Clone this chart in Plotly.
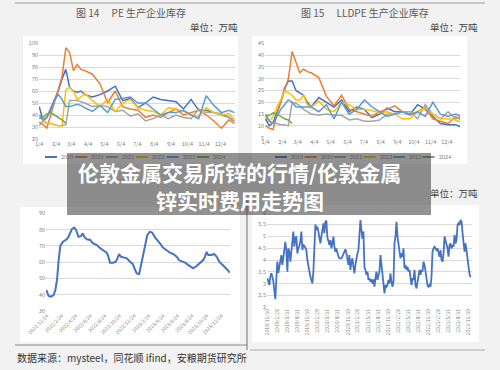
import plotly.graph_objects as go
import pandas as pd

W, H = 500, 370

# ---------------- data: top seasonal charts ----------------
SEASON_DATES = ["2001-01-04", "2001-01-11", "2001-01-18", "2001-01-25", "2001-02-01", "2001-02-08",
                "2001-02-15", "2001-02-22", "2001-03-01", "2001-03-08", "2001-03-15", "2001-03-22",
                "2001-03-29", "2001-04-12", "2001-04-26", "2001-05-10", "2001-05-24", "2001-06-07",
                "2001-06-21", "2001-07-05", "2001-07-19", "2001-08-02", "2001-08-16", "2001-08-30",
                "2001-09-13", "2001-09-27", "2001-10-11", "2001-10-25", "2001-11-08", "2001-11-22",
                "2001-12-06", "2001-12-20", "2001-12-30"]
SEASON_TICKVALS = ["2001-01-04", "2001-02-04", "2001-03-04", "2001-04-04", "2001-05-04", "2001-06-04",
                   "2001-07-04", "2001-08-04", "2001-09-04", "2001-10-04", "2001-11-04", "2001-12-04"]
SEASON_TICKTEXT = ["1/4", "2/4", "3/4", "4/4", "5/4", "6/4", "7/4", "8/4", "9/4", "10/4", "11/4", "12/4"]
YEARS = ["2019", "2020", "2021", "2022", "2023", "2024"]
YEAR_COLORS = ["#4472C4", "#ED7D31", "#A5A5A5", "#FFC000", "#5B9BD5", "#70AD47"]

PE_2019 = [47, 35, 38, 45, 52, 60, 70, 78, 63, 60, 59, 60, 57, 55, 57, 60, 64, 52, 54, 46, 50, 55, 53, 52, 51, 45, 53, 44, 44, 42, 40, 38, 35]
PE_2020 = [34, 32, 29, 40, 50, 60, 72, 96, 92, 77, 82, 78, 77, 74, 66, 50, 60, 47, 45, 44, 38, 40, 38, 42, 45, 40, 42, 44, 40, 35, 29, 36, 33]
PE_2021 = [31, 35, 33, 33, 32, 31, 31, 32, 52, 52, 52, 51, 50, 47, 48, 47, 43, 44, 39, 41, 35, 37, 40, 37, 40, 38, 37, 45, 42, 42, 41, 38, 35]
PE_2022 = [38, 36, 33, 33, 32, 31, 31, 61, 63, 60, 53, 55, 58, 52, 47, 53, 43, 50, 53, 46, 44, 43, 40, 46, 45, 43, 40, 39, 46, 42, 40, 41, 36]
PE_2023 = [40, 36, 38, 44, 52, 57, 53, 47, 47, 48, 49, 48, 46, 43, 48, 42, 53, 54, 55, 50, 50, 45, 40, 42, 42, 44, 40, 37, 56, 48, 42, 44, 42]
PE_2024 = [37, 38, 41, 42, 40, 38, 36, 33]

LL_2019 = [13, 10, 11.5, 16, 20, 26, 29, 29, 25, 24, 23, 20, 18, 22, 20, 18, 21, 16, 18, 17, 13.5, 15, 17.5, 16, 16, 15, 19, 17, 14, 11, 10.5, 10.5, 9.5]
LL_2020 = [10, 9, 8.5, 15, 20, 25, 30, 41.5, 37, 32.5, 34, 33, 32.5, 30.5, 22.5, 18.5, 23, 17, 16, 15, 14, 16, 17, 18.5, 16, 15, 16, 18, 13, 12, 11, 14, 12.5]
LL_2021 = [14, 12, 11, 11, 10.5, 10.5, 10, 20, 19.5, 18.5, 17, 16, 15, 14.5, 15, 14.5, 14.5, 12.5, 13, 12, 12, 12.5, 15, 15, 16, 16, 13, 19, 15, 13, 16, 13, 14]
LL_2022 = [15, 12, 14, 18, 21, 25, 24, 23, 21, 21, 23, 19, 18, 20.5, 17, 16, 20, 19, 17, 17, 16.5, 15.5, 16, 15, 13, 13, 16, 17.5, 15, 13, 13, 12.5, 11.5]
LL_2023 = [15, 12, 11, 14, 17, 19, 21, 20, 18, 18, 18, 18, 18, 16, 19, 13, 20, 15, 17, 21, 18, 16, 14, 15, 16, 14.5, 16, 14, 20, 15, 14, 15, 14]
LL_2024 = [14, 14.5, 15.5, 15, 14, 13, 12.5, 11]

# ---------------- data: bottom-left line ----------------
BL_DATES = ["2021-12-21", "2021-12-31", "2022-01-10", "2022-01-21", "2022-01-28", "2022-02-04", "2022-02-11",
            "2022-02-18", "2022-03-01", "2022-03-11", "2022-03-17", "2022-03-24", "2022-03-31", "2022-04-07",
            "2022-04-17", "2022-04-25", "2022-05-05", "2022-05-15", "2022-05-23", "2022-05-29", "2022-06-09",
            "2022-06-23", "2022-07-04", "2022-07-21", "2022-08-04", "2022-08-18", "2022-08-31", "2022-09-07",
            "2022-09-14", "2022-09-28", "2022-10-08", "2022-10-15", "2022-10-22", "2022-10-29", "2022-11-09",
            "2022-11-23", "2022-12-07", "2022-12-18", "2022-12-28", "2023-01-04", "2023-01-14", "2023-01-20",
            "2023-01-29", "2023-02-08", "2023-02-17", "2023-02-28", "2023-03-10", "2023-03-21", "2023-03-31",
            "2023-04-11", "2023-04-22", "2023-05-02", "2023-05-13", "2023-05-23", "2023-06-06", "2023-06-20",
            "2023-07-01", "2023-07-15", "2023-07-25", "2023-08-08", "2023-08-17", "2023-08-28", "2023-09-11",
            "2023-09-25", "2023-10-09", "2023-10-16", "2023-10-23", "2023-10-30", "2023-11-13", "2023-11-23",
            "2023-12-04", "2023-12-15", "2023-12-25", "2024-01-08", "2024-01-19", "2024-01-28"]
BL_VALUES = [43, 39.2, 38.8, 39.8, 42.9, 49, 61.3, 70, 72.6, 73.2, 74, 75.6, 77.7, 80.2, 81.2, 79.8, 75.6, 76,
             77.7, 75.6, 74, 73.6, 71.6, 70.5, 68.5, 67, 65.8, 63.4, 59.7, 59.7, 60.3, 62.3, 65, 63.4, 63, 62.3,
             60.3, 58.9, 55.2, 53.1, 52.7, 57.2, 62.3, 71.6, 76.7, 78.7, 78.1, 75.2, 73.6, 71.6, 69.1, 67.9, 67,
             65.8, 65, 63.4, 61, 60.3, 59.7, 58.2, 57.2, 56.2, 57.6, 59.7, 61.3, 63.4, 66.2, 64.4, 64.4, 65, 63.4,
             60.3, 58.9, 57.2, 55.2, 53.5]
BL_TICKVALS = ["2021-12-24", "2022-02-24", "2022-04-24", "2022-06-24", "2022-08-24", "2022-10-24", "2022-12-24",
               "2023-02-24", "2023-04-24", "2023-06-24", "2023-08-24", "2023-10-24", "2023-12-24"]
BL_TICKTEXT = ["2021/12/24", "2022/2/24", "2022/4/24", "2022/6/24", "2022/8/24", "2022/10/24", "2022/12/24",
               "2023/2/24", "2023/4/24", "2023/6/24", "2023/8/24", "2023/10/24", "2023/12/24"]

# ---------------- data: bottom-right line ----------------
BR_START, BR_END = "2018-11-30", "2023-12-18"
BR_VALUES = [3.23, 3.1, 2.94, 3.3, 3.44, 3.3, 3.1, 2.7, 2.34, 3.2,
             3.93, 3.46, 3.72, 4.0, 4.21, 3.79, 4.07, 4.49, 4.77, 4.4,
             3.51, 4.49, 4.35, 3.93, 4.42, 4.63, 5.2, 4.56, 4.92, 4.99,
             4.28, 4.49, 4.6, 4.8, 5.2, 4.42, 4.63, 4.6, 4.49, 4.42,
             4.0, 3.65, 3.51, 3.3, 3.1, 3.01, 3.5, 4.4, 5.5, 5.27,
             5.41, 5.2, 4.9, 4.7, 5.0, 5.35, 5.55, 5.13, 5.62, 5.66,
             4.95, 4.8, 4.63, 4.84, 4.49, 4.7, 4.99, 4.56, 4.35, 4.49,
             4.3, 4.15, 4.07, 4.07, 4.07, 4.15, 4.28, 4.4, 4.45, 4.3,
             3.95, 3.79, 4.21, 3.58, 3.93, 4.07, 3.7, 3.44, 3.8, 4.1,
             4.28, 4.42, 5.13, 5.69, 5.27, 4.9, 5.2, 3.7, 3.58, 3.37,
             3.51, 3.16, 3.23, 3.08, 3.18, 3.01, 3.18, 2.87, 3.23, 3.51,
             3.16, 3.3, 3.51, 4.21, 3.72, 3.23, 2.8, 2.59, 2.94, 2.87,
             2.94, 3.16, 3.01, 3.44, 3.08, 2.87, 3.08, 4.7, 4.99, 5.62,
             4.99, 4.7, 4.49, 4.07, 4.28, 4.14, 4.49, 3.65, 3.79, 3.58,
             3.72, 3.51, 3.58, 3.23, 2.94, 3.23, 3.16, 3.58, 2.94, 2.8,
             3.08, 3.51, 3.58, 3.37, 3.58, 3.51, 3.93, 3.79, 3.58, 3.23,
             2.94, 2.87, 2.94, 2.87, 3.3, 4.35, 4.49, 4.56, 4.49, 4.42,
             4.49, 4.35, 4.14, 4.42, 4.0, 3.93, 4.28, 4.99, 4.84, 4.7,
             4.49, 4.14, 4.63, 4.7, 4.49, 4.63, 4.56, 5.06, 4.7, 4.84,
             5.48, 5.55, 5.48, 5.69, 5.62, 5.13, 4.63, 4.35, 4.7, 4.35,
             4.07, 3.72, 3.4, 3.27]
BR_DATES = pd.date_range(BR_START, BR_END, periods=len(BR_VALUES))
BR_TICKVALS = ["2018-11-30", "2019-02-28", "2019-05-31", "2019-08-31", "2019-11-30", "2020-02-29", "2020-05-31",
               "2020-08-31", "2020-11-30", "2021-02-28", "2021-05-31", "2021-08-31", "2021-11-30", "2022-02-28",
               "2022-05-31", "2022-08-31", "2022-11-30", "2023-02-28", "2023-05-31", "2023-08-31", "2023-11-30"]
BR_TICKTEXT = ["2018/11/30", "2019/2/28", "2019/5/31", "2019/8/31", "2019/11/30", "2020/2/29", "2020/5/31",
               "2020/8/31", "2020/11/30", "2021/2/28", "2021/5/31", "2021/8/31", "2021/11/30", "2022/2/28",
               "2022/5/31", "2022/8/31", "2022/11/30", "2023/2/28", "2023/5/31", "2023/8/31", "2023/11/30"]

TITLE_PE = "图 14　 PE 生产企业库存"
TITLE_LL = "图 15　 LLDPE 生产企业库存"
UNIT = "单位：万吨"
BANNER_1 = "伦敦金属交易所锌的行情/伦敦金属"
BANNER_2 = "锌实时费用走势图"
SOURCE = "数据来源：mysteel，同花顺 ifind，安粮期货研究所"

FONT = "Noto Sans CJK SC, Noto Sans, sans-serif"
GRID = "#d9d9d9"
TICKC = "#7f7f7f"
PAGE_BG = "#f2f2f2"


def fx(px):
    return px / W


def fy(py):
    return 1 - py / H


fig = go.Figure()

pe_series = [PE_2019, PE_2020, PE_2021, PE_2022, PE_2023, PE_2024]
ll_series = [LL_2019, LL_2020, LL_2021, LL_2022, LL_2023, LL_2024]
for vals, col in zip(pe_series, YEAR_COLORS):
    fig.add_trace(go.Scatter(x=SEASON_DATES[:len(vals)], y=vals, mode="lines",
                             line=dict(color=col, width=1.5), xaxis="x", yaxis="y", showlegend=False))
for vals, col in zip(ll_series, YEAR_COLORS):
    fig.add_trace(go.Scatter(x=SEASON_DATES[:len(vals)], y=vals, mode="lines",
                             line=dict(color=col, width=1.5), xaxis="x2", yaxis="y2", showlegend=False))
fig.add_trace(go.Scatter(x=BL_DATES, y=BL_VALUES, mode="lines", line=dict(color="#4472C4", width=2),
                         xaxis="x3", yaxis="y3", showlegend=False))
fig.add_trace(go.Scatter(x=BR_DATES, y=BR_VALUES, mode="lines", line=dict(color="#4472C4", width=1.8),
                         xaxis="x4", yaxis="y4", showlegend=False))


def xax(d0, d1, rng, tv, tt, angle=0, size=5.5):
    return dict(domain=[fx(d0), fx(d1)], type="date", range=rng, tickvals=tv, ticktext=tt,
                tickangle=angle, tickfont=dict(size=size, color=TICKC), showgrid=False,
                zeroline=False, showline=False, ticks="", automargin=False, fixedrange=True)


def yax(p_top, p_bot, rng, dtick, anchor):
    return dict(domain=[fy(p_bot), fy(p_top)], range=rng, dtick=dtick, anchor=anchor,
                tickfont=dict(size=5.5, color=TICKC), showgrid=True, gridcolor=GRID, gridwidth=0.8,
                zeroline=False, showline=False, ticks="", automargin=False, fixedrange=True)


fig.update_layout(
    xaxis=dict(**xax(39, 235, ["2001-01-03 12:00", "2001-12-31"], SEASON_TICKVALS, SEASON_TICKTEXT), anchor="y"),
    yaxis=yax(43, 139, [20, 100], 10, "x"),
    xaxis2=dict(**xax(265, 460, ["2001-01-03", "2001-12-28"], SEASON_TICKVALS, SEASON_TICKTEXT), anchor="y2"),
    yaxis2=yax(43.3, 137.7, [5, 45], 5, "x2"),
    xaxis3=dict(**xax(46, 230, ["2021-12-20", "2024-01-29"], BL_TICKVALS, BL_TICKTEXT, angle=-45, size=5), anchor="y3"),
    yaxis3=yax(213.3, 311, [30, 90], 10, "x3"),
    xaxis4=dict(**xax(267, 472, ["2018-11-27", "2023-12-31"], BR_TICKVALS, BR_TICKTEXT, angle=-90, size=5), anchor="y4"),
    yaxis4=yax(212.7, 307.3, [2, 6], 0.5, "x4"),
)

shapes = []
# white chart panels
for x0, y0, x1, y1 in [(23, 36, 238, 164), (252, 36, 467, 164), (20, 207, 240, 342), (252, 205, 479, 342)]:
    shapes.append(dict(type="rect", xref="paper", yref="paper", x0=fx(x0), x1=fx(x1), y0=fy(y1), y1=fy(y0),
                       fillcolor="white", line=dict(width=0), layer="below"))
# page rules
shapes.append(dict(type="line", xref="paper", yref="paper", x0=fx(15), x1=fx(485), y0=fy(3), y1=fy(3),
                   line=dict(color="#9a9a9a", width=1)))
shapes.append(dict(type="line", xref="paper", yref="paper", x0=fx(15), x1=fx(247), y0=fy(345), y1=fy(345),
                   line=dict(color="#8a8a8a", width=1)))
shapes.append(dict(type="line", xref="paper", yref="paper", x0=fx(250), x1=fx(485), y0=fy(350), y1=fy(350),
                   line=dict(color="#cfcfcf", width=2)))
shapes.append(dict(type="line", xref="paper", yref="paper", x0=fx(247), x1=fx(247), y0=fy(350), y1=fy(200),
                   line=dict(color="#707070", width=1)))

annotations = []
# legends for the two seasonal charts
for base, step in [(45, 30.4), (275, 29.5)]:
    for i, (yr, col) in enumerate(zip(YEARS, YEAR_COLORS)):
        x0 = base + step * i
        shapes.append(dict(type="line", xref="paper", yref="paper", x0=fx(x0), x1=fx(x0 + 12),
                           y0=fy(157), y1=fy(157), line=dict(color=col, width=2)))
        annotations.append(dict(x=fx(x0 + 14), y=fy(157), xref="paper", yref="paper", text=yr,
                                showarrow=False, xanchor="left", yanchor="middle",
                                font=dict(size=5.5, color=TICKC)))

# titles / units / source
annotations += [
    dict(x=fx(131), y=fy(12), text=TITLE_PE, font=dict(size=10, color="#595959")),
    dict(x=fx(365), y=fy(12), text=TITLE_LL, font=dict(size=10, color="#595959")),
    dict(x=fx(240), y=fy(27), text=UNIT, xanchor="right", font=dict(size=9.5, color="#404040")),
    dict(x=fx(480), y=fy(27), text=UNIT, xanchor="right", font=dict(size=9.5, color="#404040")),
    dict(x=fx(480), y=fy(193), text=UNIT, xanchor="right", font=dict(size=9.5, color="#404040")),
    dict(x=fx(15), y=fy(357), text=SOURCE, xanchor="left", font=dict(size=10, color="#333333")),
]
for a in annotations[-6:]:
    a.update(xref="paper", yref="paper", showarrow=False)
    a.setdefault("xanchor", "center")
    a.setdefault("yanchor", "middle")

# banner (drawn after everything it covers)
annotations.append(dict(x=fx(249), y=fy(184), xref="paper", yref="paper", text=" ", showarrow=False,
                        width=364, height=62, bgcolor="rgba(60,60,60,0.56)", borderpad=0, borderwidth=0,
                        xanchor="center", yanchor="middle"))
annotations.append(dict(x=fx(239), y=fy(172), xref="paper", yref="paper", text=BANNER_1, showarrow=False,
                        xanchor="center", yanchor="middle",
                        font=dict(size=21, color="white", weight="bold")))
annotations.append(dict(x=fx(240), y=fy(200), xref="paper", yref="paper", text=BANNER_2, showarrow=False,
                        xanchor="center", yanchor="middle",
                        font=dict(size=21, color="white", weight="bold")))

fig.update_layout(
    width=W, height=H, margin=dict(l=0, r=0, t=0, b=0),
    paper_bgcolor=PAGE_BG, plot_bgcolor="rgba(0,0,0,0)",
    font=dict(family=FONT), template="none",
    shapes=shapes, annotations=annotations, showlegend=False,
)

fig.write_html("out.html", config={"displayModeBar": False},
               post_script="document.body.style.margin='0';document.body.style.background='#f2f2f2';")
